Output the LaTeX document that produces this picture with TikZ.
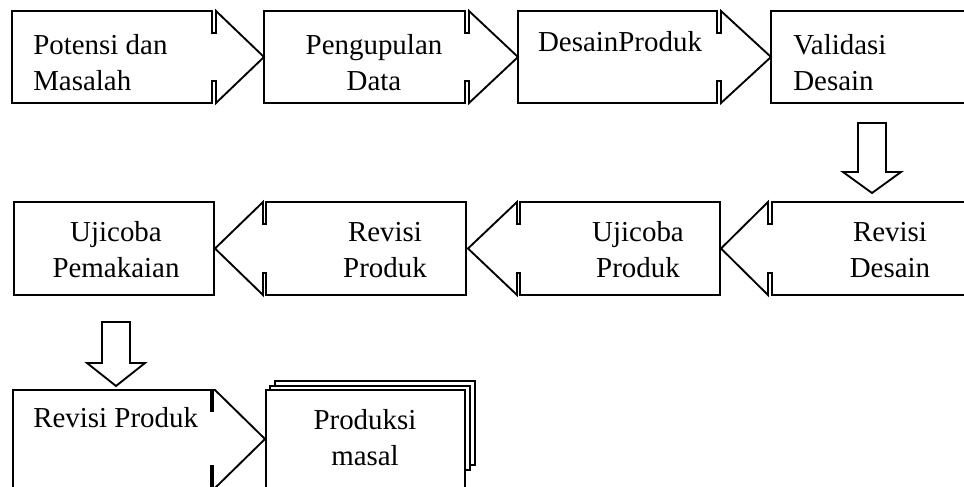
\documentclass[tikz,border=0pt]{standalone}
\usepackage{fontspec}
\setmainfont{Liberation Serif}
\usepackage{xcolor}
\definecolor{lineDark}{HTML}{000000}
\usepackage{tikz}
\usetikzlibrary{calc}
\tikzset{%
  shapeLine/.style={%
    draw=lineDark,
    line width=1.4pt,
    line join=miter
  },
  notchBar/.style={%
    draw=lineDark,
    line width=2.6pt
  },
  stepText/.style={%
    inner sep=0pt,
    font=\fontsize{21.7}{27}\selectfont
  }
}
% notched block arrow: body x, notch x1, notch x2, tip x, top y, bottom y
\newcommand{\notchArrow}[6]{%
  \draw[shapeLine] (#1,#5) -- (#2,#5) -- (#2,#5+22) -- (#3,#5+22) -- (#3,#5)
    -- (#4,{(#5+#6)/2}) -- (#3,#6) -- (#3,#6-22) -- (#2,#6-22) -- (#2,#6)
    -- (#1,#6) -- cycle;
}
% hollow down arrow: centre x, shaft half, head half, top y, head y, tip y
\newcommand{\downBlock}[6]{%
  \draw[shapeLine] (#1-#2,#4) -- (#1+#2,#4) -- (#1+#2,#5) -- (#1+#3,#5)
    -- (#1,#6) -- (#1-#3,#5) -- (#1-#2,#5) -- cycle;
}

\begin{document}
\begin{tikzpicture}[x=0.75pt,y=-0.75pt]
  \useasboundingbox (0,0) rectangle (964,486);
  \clip (0,0) rectangle (964,486);

  % row 1
  \notchArrow{12}{212}{216}{264}{11}{103}
  \notchArrow{264}{465}{469}{518}{11}{103}
  \notchArrow{518}{717}{721}{771}{11}{103}
  \draw[shapeLine] (771,11) rectangle (1000,103);

  \node[stepText, anchor=west, align=left] (potensi) at (33,63) {Potensi dan\\Masalah};
  \node[stepText, align=center] (pengumpulan) at (374,63) {Pengupulan\\Data};
  \node[stepText] (desain) at (620,42) {DesainProduk};
  \node[stepText, anchor=west, align=left] (validasi) at (793,63) {Validasi\\Desain};

  \downBlock{872}{14}{29}{123}{172}{193}

  % row 2
  \draw[shapeLine] (14,202) rectangle (214,295);
  \notchArrow{466}{266}{263}{215}{202}{295}
  \notchArrow{720}{520}{517}{468}{202}{295}
  \notchArrow{1000}{772}{768}{721}{202}{295}

  \node[stepText, align=center] (ujiPakai) at (116,250) {Ujicoba\\Pemakaian};
  \node[stepText, align=center] (revProduk) at (385,250) {Revisi\\Produk};
  \node[stepText, align=center] (ujiProduk) at (638,250) {Ujicoba\\Produk};
  \node[stepText, align=center] (revDesain) at (890,250) {Revisi\\Desain};

  \downBlock{116}{14}{29}{322}{363}{386}

  % row 3
  \draw[shapeLine] (215,488) -- (265,439) -- (215,390) -- (13,390) -- (13,500);
  \draw[notchBar] (212,390) -- (212,412);
  \draw[notchBar] (212,465) -- (212,500);
  \draw[shapeLine] (275,386) -- (275,381) -- (475,381) -- (475,465) -- (470,465);
  \draw[shapeLine] (270,390) -- (270,386) -- (470,386) -- (470,470) -- (465,470);
  \draw[shapeLine, fill=white] (266,390) rectangle (465,500);

  \node[stepText, anchor=west] (revProdukB) at (33,418) {Revisi Produk};
  \node[stepText, align=center] (produksi) at (365,438) {Produksi\\masal};
\end{tikzpicture}
\end{document}
